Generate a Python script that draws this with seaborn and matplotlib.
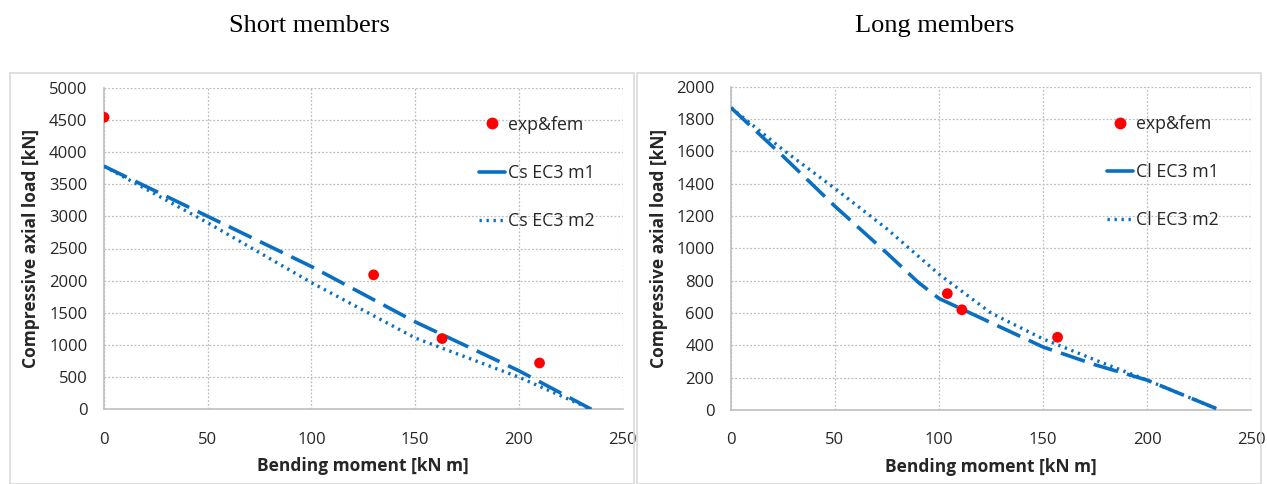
import matplotlib
matplotlib.use("Agg")
import matplotlib.pyplot as plt
import seaborn as sns
import pandas as pd
from matplotlib.lines import Line2D
from matplotlib.patches import Rectangle

# ---------------- data ----------------
short_exp_x = [0, 130, 163, 210]
short_exp_y = [4540, 2090, 1100, 720]
short_m1_x = [0, 50, 100, 150, 200, 235]
short_m1_y = [3780, 3000, 2220, 1360, 600, 0]
short_m2_x = [0, 50, 100, 150, 200, 235]
short_m2_y = [3780, 2900, 1970, 1110, 500, 0]

long_exp_x = [104, 111, 157]
long_exp_y = [720, 620, 450]
long_m1_x = [0, 25, 50, 75, 90, 100, 110, 150, 175, 200, 235]
long_m1_y = [1870, 1570, 1260, 970, 790, 690, 630, 390, 280, 185, 0]
long_m2_x = [0, 25, 50, 75, 100, 125, 150, 175, 200, 235]
long_m2_y = [1870, 1610, 1370, 1120, 840, 600, 440, 310, 185, 0]

titles = ["Short members", "Long members"]
legend_labels = [["exp&fem", "Cs EC3 m1", "Cs EC3 m2"],
                 ["exp&fem", "Cl EC3 m1", "Cl EC3 m2"]]
xticks = [0, 50, 100, 150, 200, 250]
yticks_short = [0, 500, 1000, 1500, 2000, 2500, 3000, 3500, 4000, 4500, 5000]
yticks_long = [0, 200, 400, 600, 800, 1000, 1200, 1400, 1600, 1800, 2000]
xlabel = "Bending moment [kN m]"
ylabel = "Compressive axial load [kN]"

BLUE = "#0A6FC2"
RED = "#FF0000"
GRID = "#BDBDBD"

sns.set_theme(style="white")
plt.rcParams['font.family'] = ['Open Sans', 'DejaVu Sans']

fig = plt.figure(figsize=(12.67, 4.84), dpi=100)

# outer panel frames
fig.patches.append(Rectangle((10/1267, 0), (634-10)/1267, 1-73/484, transform=fig.transFigure,
                             fill=False, edgecolor="#D9D9D9", linewidth=1.2))
fig.patches.append(Rectangle((637/1267, 0), (1261-637)/1267, 1-73/484, transform=fig.transFigure,
                             fill=False, edgecolor="#D9D9D9", linewidth=1.2))

axes_pos = [
    [104/1267, 1-409.3/484, (622.5-104)/1267, (409.3-87.7)/484],
    [731/1267, 1-410/484, (1251-731)/1267, (410-86.7)/484],
]

panels = [
    (short_exp_x, short_exp_y, short_m1_x, short_m1_y, short_m2_x, short_m2_y, yticks_short, 5000),
    (long_exp_x, long_exp_y, long_m1_x, long_m1_y, long_m2_x, long_m2_y, yticks_long, 2000),
]
title_x = [309/1267, 935/1267]

for i, (ex, ey, m1x, m1y, m2x, m2y, yt, ymax) in enumerate(panels):
    ax = fig.add_axes(axes_pos[i])
    d1 = pd.DataFrame({"x": m1x, "y": m1y})
    d2 = pd.DataFrame({"x": m2x, "y": m2y})
    de = pd.DataFrame({"x": ex, "y": ey})
    sns.lineplot(data=d1, x="x", y="y", ax=ax, color=BLUE, linewidth=2.6,
                 linestyle=(0, (7, 2.6)), zorder=3)
    sns.lineplot(data=d2, x="x", y="y", ax=ax, color=BLUE, linewidth=2.4,
                 linestyle=(0, (0.7, 1.4)), zorder=3)
    sns.scatterplot(data=de, x="x", y="y", ax=ax, color=RED, s=60, edgecolor="none", zorder=4)

    ax.set_xlim(0, 250)
    ax.set_ylim(0, ymax)
    ax.set_xticks(xticks)
    ax.set_yticks(yt)
    ax.grid(True, color=GRID, linestyle=(0, (1.5, 1.5)), linewidth=0.9)
    for s in ["top", "right"]:
        ax.spines[s].set_visible(False)
    for s in ["left", "bottom"]:
        ax.spines[s].set_color("#BFBFBF")
        ax.spines[s].set_linewidth(1.2)
    ax.tick_params(axis="both", which="both", direction="out", length=5, width=1,
                   color="#BFBFBF", labelsize=12, labelcolor="#262626")
    ax.tick_params(axis="x", pad=11)
    ax.tick_params(axis="y", pad=7)
    ax.set_xlabel(xlabel, fontsize=12.5, fontweight="bold", color="#262626", labelpad=7)
    ax.set_ylabel(ylabel, fontsize=12.5, fontweight="bold", color="#262626", labelpad=6)

    handles = [
        Line2D([], [], color=RED, marker="o", linestyle="none", markersize=7.5),
        Line2D([], [], color=BLUE, linewidth=2.6),
        Line2D([], [], color=BLUE, linewidth=2.4, linestyle=(0, (0.7, 1.4))),
    ]
    leg = ax.legend(handles, legend_labels[i], loc="upper left",
                    bbox_to_anchor=(0.709, 0.935), frameon=False, fontsize=12.8,
                    labelspacing=1.7, handlelength=1.5, handletextpad=0.15,
                    borderaxespad=0)
    for t in leg.get_texts():
        t.set_color("#262626")

    fig.text(title_x[i], 1-26/484, titles[i], ha="center", va="center",
             fontsize=19, family=["Liberation Serif", "DejaVu Serif"], color="black")

fig.savefig("out.png", dpi=100)
